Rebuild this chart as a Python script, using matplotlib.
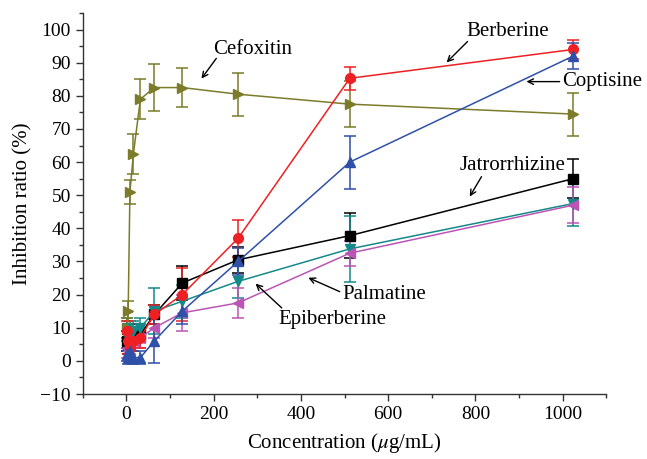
import matplotlib
matplotlib.use("Agg")
import matplotlib.pyplot as plt
from matplotlib.ticker import MultipleLocator

plt.rcParams['font.family'] = ['Liberation Serif', 'DejaVu Serif']
plt.rcParams['mathtext.fontset'] = 'stix'

conc = [2, 4, 8, 16, 32, 64, 128, 256, 512, 1024]

berberine = [9, 6, 4, 6, 7, 14, 20, 37, 85.3, 94]
berberine_err = [3, 4, 3, 3, 3, 3, 8, 5.5, 3.5, 3]
coptisine = [2, 1, 3, 1, 1, 6, 15, 30, 60, 92]
coptisine_err = [2, 2, 2, 2, 2, 6.5, 4, 4, 8, 4]
jatrorrhizine = [6, 5, 8, 7, 8, 14, 23.5, 30.5, 37.8, 55]
jatrorrhizine_err = [3, 3, 3, 2, 2, 3, 5, 4, 6.8, 5.8]
epiberberine = [10, 7, 9, 9, 10, 15, 18, 24, 33.8, 47.5]
epiberberine_err = [3, 3, 3, 3, 3, 7, 5, 5, 10, 6.7]
palmatine = [4, 3, 5, 6, 7, 10, 14.5, 17.5, 32.5, 47]
palmatine_err = [3, 3, 3, 3, 3, 3, 5.5, 4.5, 3.8, 5.5]
cefoxitin = [10, 15, 51, 62.5, 79, 82.5, 82.5, 80.5, 77.5, 74.5]
cefoxitin_err = [3, 3, 3.5, 6, 6, 7, 6, 6.5, 7, 6.5]

series = [
    ("Jatrorrhizine", jatrorrhizine, jatrorrhizine_err, "black", "s"),
    ("Epiberberine", epiberberine, epiberberine_err, "#14898a", "v"),
    ("Palmatine", palmatine, palmatine_err, "#bb55b5", "<"),
    ("Cefoxitin", cefoxitin, cefoxitin_err, "#7b7b2a", ">"),
    ("Berberine", berberine, berberine_err, "#ee2024", "o"),
    ("Coptisine", coptisine, coptisine_err, "#2f50a8", "^"),
]

fig = plt.figure(figsize=(6.47, 4.59), dpi=100)
ax = fig.add_axes([0.128, 0.1416, 0.809, 0.830])

for name, vals, err, col, mk in series:
    ax.errorbar(conc, vals, yerr=err, color=col, marker=mk, markersize=7,
                linewidth=1.1, elinewidth=1.1, capsize=4, capthick=1.1)

ax.set_xlim(-100, 1100)
ax.set_ylim(-10, 105)
ax.xaxis.set_minor_locator(MultipleLocator(100))
ax.yaxis.set_minor_locator(MultipleLocator(5))
ax.set_xticks(range(0, 1001, 200))
ax.set_yticks(range(-10, 101, 10))
ax.set_yticklabels(["\u2212" + str(-t) if t < 0 else str(t) for t in range(-10, 101, 10)])
for s in ["top", "right"]:
    ax.spines[s].set_visible(False)
for s in ["left", "bottom"]:
    ax.spines[s].set_color("#333333")
    ax.spines[s].set_linewidth(1.0)
ax.tick_params(which="major", direction="out", length=5, width=1, colors="#333333", labelcolor="black", labelsize=14)
ax.tick_params(which="minor", direction="out", length=3, width=1, colors="#333333")

ax.set_xlabel(r"Concentration ($\mu$g/mL)", fontsize=15, labelpad=6)
ax.set_ylabel("Inhibition ratio (%)", fontsize=15, labelpad=6)

arrow = dict(arrowstyle="->", color="black", lw=1.0, shrinkA=0, shrinkB=0)
ann = [
    ("Cefoxitin", (289, 94), (206, 91.3), (172, 85.2), "center"),
    ("Berberine", (874, 99.4), (782, 96.4), (734, 90.1), "center"),
    ("Coptisine", (998, 84.3), (993, 84.3), (917, 84.3), "left"),
    ("Jatrorrhizine", (885, 58.9), (814, 55.6), (787, 49.6), "center"),
    ("Palmatine", (592, 19.9), (489, 20.9), (417, 25.1), "center"),
    ("Epiberberine", (472, 12.4), (356, 16), (296, 23.3), "center"),
]
for label, tpos, tail, head, ha in ann:
    ax.text(tpos[0], tpos[1], label, fontsize=15, ha=ha, va="center")
    ax.annotate("", xy=head, xytext=tail, arrowprops=arrow)

fig.savefig("out.png", dpi=100)
